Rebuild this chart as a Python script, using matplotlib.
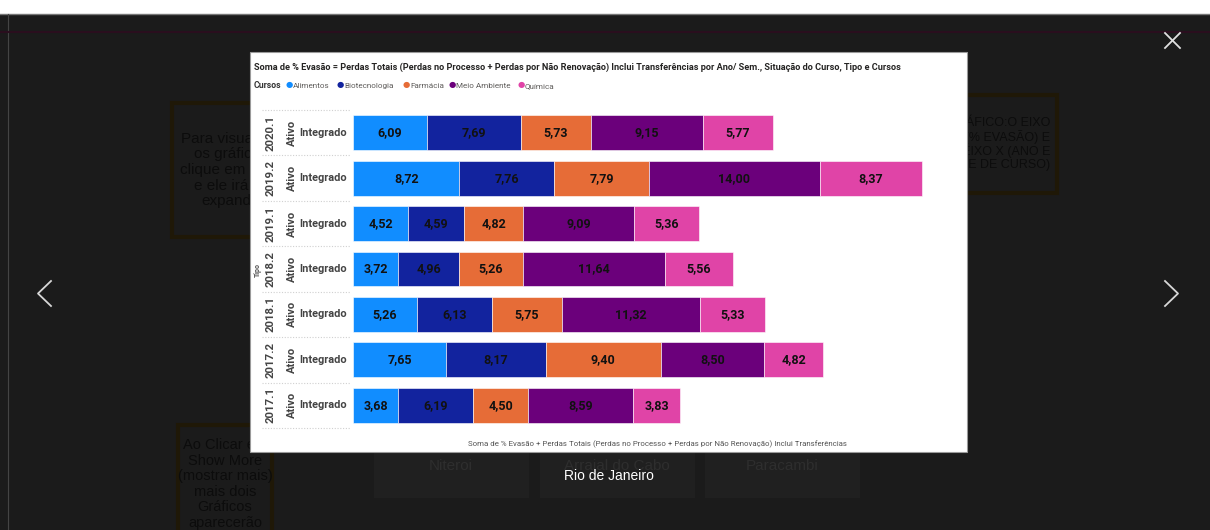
"""
Recreation of a Power BI stacked bar chart shown inside a dark lightbox.
"""

import matplotlib
matplotlib.use("Agg")
import matplotlib.pyplot as plt
from matplotlib.patches import Rectangle
from matplotlib.lines import Line2D
from matplotlib.transforms import blended_transform_factory
import numpy as np

# Data (top row first)
PERIODS = ["2020.1", "2019.2", "2019.1", "2018.2", "2018.1", "2017.2", "2017.1"]
COURSES = ["Alimentos", "Biotecnologia", "Farmácia", "Meio Ambiente", "Química"]
ALIMENTOS = [6.09, 8.72, 4.52, 3.72, 5.26, 7.65, 3.68]
BIOTECNOLOGIA = [7.69, 7.76, 4.59, 4.96, 6.13, 8.17, 6.19]
FARMACIA = [5.73, 7.79, 4.82, 5.26, 5.75, 9.40, 4.50]
MEIO_AMBIENTE = [9.15, 14.00, 9.09, 11.64, 11.32, 8.50, 8.59]
QUIMICA = [5.77, 8.37, 5.36, 5.56, 5.33, 4.82, 3.83]

COLORS = ["#118DFF", "#12239E", "#E66C37", "#6B007B", "#E044A7"]

TITLE = ("Soma de % Evasão = Perdas Totais (Perdas no Processo + Perdas por Não "
         "Renovação) Inclui Transferências por Ano/ Sem., Situação do Curso, Tipo e Cursos")
XLABEL = ("Soma de % Evasão + Perdas Totais (Perdas no Processo + Perdas por Não "
          "Renovação) Inclui Transferências")

W, H = 1210, 530
BG = "#1b1b1b"
FONT = "Roboto"


def fx(px):
    return px / W


def fy(py):
    return 1 - py / H


fig = plt.figure(figsize=(W / 100, H / 100), dpi=100, facecolor=BG)

# --- lightbox background decoration ---
fig.patches.append(Rectangle((0, fy(14)), 1, 14 / H, transform=fig.transFigure,
                             facecolor="white", edgecolor="none", zorder=0))
fig.add_artist(Line2D([0, 1], [fy(14), fy(14)], color="#777777", lw=1))
fig.add_artist(Line2D([fx(8), fx(8)], [0, fy(14)], color="#444444", lw=0.8))
fig.add_artist(Line2D([0, 1], [fy(32), fy(32)], color="#2a0e1e", lw=1.5))

# faint help boxes behind the modal
boxes = [
    (172, 103, 118, 134, 231, "center", 11,
     "Para visualizar\nos gráficos\nclique em cima\ne ele irá se\nexpandir"),
    (880, 95, 177, 98, 1050, "right", 9,
     "NO GRÁFICO:O EIXO\nY (% EVASÃO) E\nO EIXO X (ANO E\nSEMESTRE DE CURSO)"),
    (178, 425, 94, 120, 225, "center", 10.5,
     "Ao Clicar em\nShow More\n(mostrar mais)\nmais dois\nGráficos\naparecerão"),
]
for bx, by, bw, bh, tx, ha, fs, txt in boxes:
    fig.patches.append(Rectangle((fx(bx), fy(by + bh)), bw / W, bh / H,
                                 transform=fig.transFigure, facecolor=BG,
                                 edgecolor="#1f1807", lw=3, zorder=0.2))
    ty = by + bh / 2 if by < 300 else 484
    fig.text(fx(tx), fy(ty), txt, ha=ha, va="center", multialignment=ha,
             fontsize=fs, color="#0c0c0c", family="Liberation Sans",
             linespacing=1.15, zorder=0.5)

for bx, name in [(374, "Niteroi"), (540, "Arraial do Cabo"), (705, "Paracambi")]:
    fig.patches.append(Rectangle((fx(bx), fy(498)), 155 / W, 60 / H,
                                 transform=fig.transFigure, facecolor="#202020",
                                 edgecolor="none", zorder=0.2))
    fig.text(fx(bx + 77), fy(466), name, ha="center", va="center",
             fontsize=11, color="#2e2e2e", family="Liberation Sans", zorder=0.5)

# --- modal white panel ---
fig.patches.append(Rectangle((fx(250), fy(452)), 717 / W, 400 / H,
                             transform=fig.transFigure, facecolor="white",
                             edgecolor="#9a9a9a", lw=0.8, zorder=1))

# navigation glyphs: thin chevrons and close cross
fig.add_artist(Line2D([fx(51), fx(38), fx(51)], [fy(281), fy(293.5), fy(306)],
                      color="#d8d8d8", lw=1.3))
fig.add_artist(Line2D([fx(1165), fx(1178), fx(1165)], [fy(281), fy(293.5), fy(306)],
                      color="#d8d8d8", lw=1.3))
fig.add_artist(Line2D([fx(1165), fx(1180)], [fy(33), fy(48)], color="#e0e0e0", lw=1.3))
fig.add_artist(Line2D([fx(1165), fx(1180)], [fy(48), fy(33)], color="#e0e0e0", lw=1.3))
fig.text(fx(609), fy(476), "Rio de Janeiro", ha="center", va="center",
         fontsize=10, color="white", family="Liberation Sans", zorder=3)

# --- chart ---
fig.text(fx(254), fy(67), TITLE, ha="left", va="center", fontsize=6.6,
         fontweight="bold", color="#252423", family=FONT, zorder=3)

# legend row (baseline aligned so accents do not shift the text)
fig.text(fx(254), fy(88), "Cursos", ha="left", va="baseline", fontsize=6.2,
         fontweight="bold", color="#333333", family=FONT, zorder=3)
legend_x = [289, 340, 406, 452, 521]
for x0, name, col in zip(legend_x, COURSES, COLORS):
    fig.text(fx(x0), fy(85), "●", ha="center", va="center", fontsize=6,
             color=col, family="DejaVu Sans", zorder=3)
    fig.text(fx(x0 + 4), fy(88), name, ha="left", va="baseline", fontsize=5.9,
             color="#605E5C", family=FONT, zorder=3)

ax = fig.add_axes([fx(353), fy(428), 600 / W, 318 / H], zorder=2)
ax.set_facecolor("none")
ax.set_xlim(0, 600 / 12.2)
ax.set_ylim(len(PERIODS) - 0.5, -0.5)

series = [ALIMENTOS, BIOTECNOLOGIA, FARMACIA, MEIO_AMBIENTE, QUIMICA]
y = np.arange(len(PERIODS))
left = np.zeros(len(PERIODS))
for vals, col in zip(series, COLORS):
    vals = np.array(vals)
    ax.barh(y, vals, left=left, height=0.77, color=col, edgecolor="white",
            linewidth=0.4)
    for yi, l, v in zip(y, left, vals):
        ax.text(l + v / 2, yi, f"{v:.2f}".replace(".", ","), ha="center",
                va="center", fontsize=9, fontweight="bold", color="#111111",
                family=FONT)
    left += vals

for s in ax.spines.values():
    s.set_visible(False)
ax.set_xticks([])
ax.set_yticks([])

# category labels on the left
tr = blended_transform_factory(fig.transFigure, ax.transData)
for yi, per in zip(y, PERIODS):
    ax.text(fx(271), yi, per, transform=tr, rotation=90, ha="center",
            va="center", fontsize=8.2, fontweight="bold", color="#444444",
            family=FONT)
    ax.text(fx(292), yi, "Ativo", transform=tr, rotation=90, ha="center",
            va="center", fontsize=8, fontweight="bold", color="#444444",
            family=FONT)
    ax.text(fx(323), yi, "Integrado", transform=tr, ha="center",
            va="center", fontsize=7.9, fontweight="bold", color="#444444",
            family=FONT)
for b in np.arange(-0.5, len(PERIODS), 1.0):
    ax.plot([fx(262), fx(350)], [b, b], transform=tr, color="#d0d0d0",
            lw=0.8, ls=(0, (1, 1.5)), clip_on=False)

fig.text(fx(258), fy(270), "Tipo", rotation=90, ha="center", va="center",
         fontsize=5, fontweight="bold", color="#555555", family=FONT, zorder=3)
fig.text(fx(658), fy(444), XLABEL, ha="center", va="center", fontsize=5.65,
         color="#555555", family=FONT, zorder=3)

fig.savefig("out.png", dpi=100, facecolor=BG)
plt.close(fig)
